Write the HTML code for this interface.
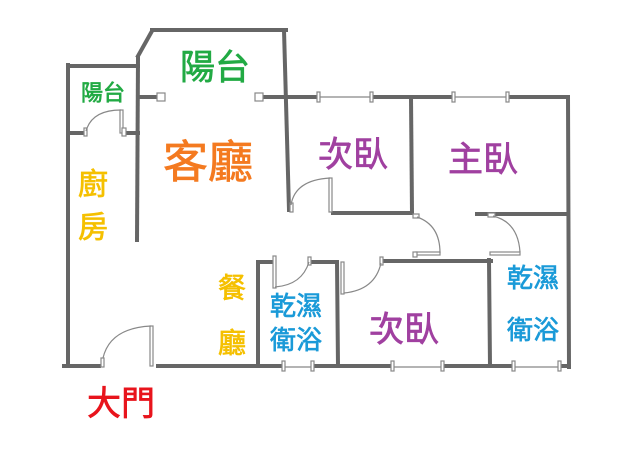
<!DOCTYPE html>
<html><head><meta charset="utf-8"><style>
body{margin:0;background:#fff;width:638px;height:460px;overflow:hidden}
svg{display:block}
text{font-family:"Liberation Sans","Noto Sans CJK TC",sans-serif;text-anchor:middle;dominant-baseline:central;stroke-width:0.7}
</style></head><body>
<svg width="638" height="460" viewBox="0 0 638 460">
<g stroke="#666" stroke-width="4" fill="none" stroke-linecap="square">
<line x1="68" y1="65" x2="68" y2="366"/>
<line x1="68" y1="66" x2="138" y2="66"/>
<line x1="138" y1="58" x2="137" y2="240"/>
<line x1="138" y1="56" x2="152" y2="31"/>
<line x1="152" y1="30" x2="286" y2="30"/>
<line x1="284" y1="30" x2="289" y2="210"/>
<line x1="68" y1="133" x2="84" y2="133"/>
<line x1="126" y1="133" x2="138" y2="133"/>
<line x1="138" y1="97" x2="157" y2="97"/>
<line x1="264" y1="97" x2="317" y2="97"/>
<line x1="373" y1="97" x2="452" y2="97"/>
<line x1="508" y1="97" x2="567" y2="97"/>
<line x1="568" y1="97" x2="569" y2="367"/>
<line x1="411" y1="97" x2="412" y2="213"/>
<line x1="333" y1="213" x2="412" y2="213"/>
<line x1="477" y1="214" x2="567" y2="214"/>
<line x1="258" y1="262" x2="258" y2="366"/>
<line x1="258" y1="262" x2="271" y2="262"/>
<line x1="312" y1="262" x2="335" y2="262"/>
<line x1="337" y1="262" x2="338" y2="366"/>
<line x1="384" y1="261" x2="491" y2="261"/>
<line x1="489" y1="260" x2="490" y2="366"/>
<line x1="64" y1="366" x2="99" y2="366"/>
<line x1="158" y1="366" x2="282" y2="366"/>
<line x1="313" y1="366" x2="391" y2="366"/>
<line x1="444" y1="366" x2="512" y2="366"/>
<line x1="561" y1="366" x2="569" y2="366"/>
</g>
<g stroke="#888" stroke-width="1.2" fill="#fff">
<rect x="157" y="93" width="8" height="8"/>
<rect x="255" y="93" width="8" height="8"/>
<line x1="320" y1="97" x2="370" y2="97"/><rect x="317" y="92" width="3" height="10"/><rect x="370" y="92" width="3" height="10"/>
<line x1="455" y1="97" x2="506" y2="97"/><rect x="452" y="92" width="3" height="10"/><rect x="506" y="92" width="3" height="10"/>
<line x1="285" y1="367" x2="311" y2="367"/><rect x="282" y="361" width="3" height="10"/><rect x="311" y="361" width="3" height="10"/>
<line x1="394" y1="367" x2="442" y2="367"/><rect x="391" y="361" width="3" height="10"/><rect x="441" y="361" width="3" height="10"/>
<line x1="515" y1="367" x2="559" y2="367"/><rect x="512" y="361" width="3" height="10"/><rect x="558" y="361" width="3" height="10"/>
<rect x="120" y="110" width="3" height="23"/><rect x="84" y="128" width="3" height="8"/><rect x="122" y="128" width="4" height="8"/>
<path d="M86 131 Q92 110 121 110" fill="none"/>
<rect x="329" y="178" width="3" height="34"/><rect x="290" y="203" width="3" height="9"/>
<path d="M291 205 Q295 180 330 178" fill="none"/>
<rect x="416" y="252" width="24" height="3"/><rect x="413" y="214" width="6" height="4"/><rect x="413" y="252" width="4" height="5"/>
<path d="M417 217 Q440 225 440 253" fill="none"/>
<rect x="490" y="252" width="30" height="3"/><rect x="488" y="213" width="7" height="4"/>
<path d="M493 216 Q518 222 520 252" fill="none"/>
<rect x="273" y="256" width="3" height="32"/><rect x="308" y="257" width="3" height="8"/>
<path d="M275 287 Q302 285 309 262" fill="none"/>
<rect x="341" y="262" width="3" height="32"/><rect x="380" y="257" width="3" height="8"/>
<path d="M344 293 Q375 290 381 263" fill="none"/>
<rect x="150" y="326" width="3" height="40"/><rect x="101" y="358" width="3" height="9"/>
<path d="M103 358 Q110 328 151 326" fill="none"/>
</g>
<text x="103" y="93" font-size="22" fill="#22aa44" stroke="#22aa44">陽台</text>
<text x="215" y="68" font-size="35" fill="#22aa44" stroke="#22aa44">陽台</text>
<text x="208" y="162" font-size="45" fill="#f47a20" stroke="#f47a20">客廳</text>
<text x="93" y="185" font-size="30" fill="#f5c000" stroke="#f5c000">廚</text>
<text x="93" y="228" font-size="30" fill="#f5c000" stroke="#f5c000">房</text>
<text x="353" y="155" font-size="35" fill="#a040a0" stroke="#a040a0">次臥</text>
<text x="483" y="160" font-size="35" fill="#a040a0" stroke="#a040a0">主臥</text>
<text x="404" y="330" font-size="35" fill="#a040a0" stroke="#a040a0">次臥</text>
<text x="232" y="288" font-size="28" fill="#f5c000" stroke="#f5c000">餐</text>
<text x="232" y="343" font-size="28" fill="#f5c000" stroke="#f5c000">廳</text>
<text x="296" y="306" font-size="26" fill="#1a9ad8" stroke="#1a9ad8">乾濕</text>
<text x="296" y="340" font-size="26" fill="#1a9ad8" stroke="#1a9ad8">衛浴</text>
<text x="533" y="278" font-size="26" fill="#1a9ad8" stroke="#1a9ad8">乾濕</text>
<text x="533" y="330" font-size="26" fill="#1a9ad8" stroke="#1a9ad8">衛浴</text>
<text x="121" y="404" font-size="34" fill="#e8141c" stroke="#e8141c">大門</text>
</svg>
</body></html>
